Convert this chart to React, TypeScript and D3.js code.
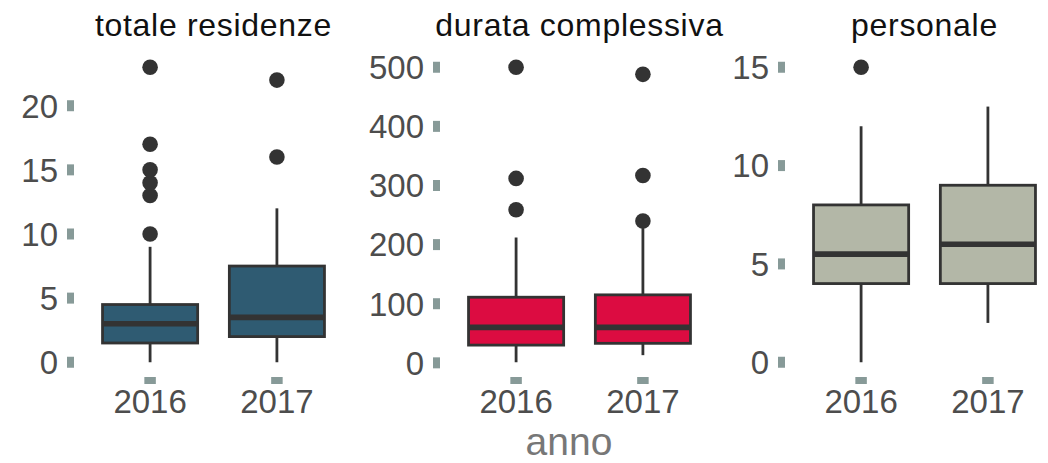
import * as d3 from "d3";

const anni = ["2016", "2017"];

// [min whisker, q1, mediana, q3, max whisker] per anno
const residenzeStats = [
  [0, 1.5, 3, 4.5, 9],
  [0, 2, 3.5, 7.5, 12],
];
const residenzeOutliers = [[10, 13, 14, 15, 17, 23], [16, 22]];
const residenzeTicks = [0, 5, 10, 15, 20];

const durataStats = [
  [1, 30, 60, 111, 212],
  [13, 33, 60, 115, 228],
];
const durataOutliers = [[259, 312, 500], [240, 317, 488]];
const durataTicks = [0, 100, 200, 300, 400, 500];

const personaleStats = [
  [0, 4, 5.5, 8, 12],
  [2, 4, 6, 9, 13],
];
const personaleOutliers = [[15], []];
const personaleTicks = [0, 5, 10, 15];

const panels = [
  { title: "totale residenze", stats: residenzeStats, outliers: residenzeOutliers, ticks: residenzeTicks, fill: "#2f5b72", left: 74 },
  { title: "durata complessiva", stats: durataStats, outliers: durataOutliers, ticks: durataTicks, fill: "#dc0c41", left: 440 },
  { title: "personale", stats: personaleStats, outliers: personaleOutliers, ticks: personaleTicks, fill: "#b3b7a7", left: 785 },
];

const W = 1048;
const H = 463;
const PANEL_W = 279;
const TOP = 52.5;
const BOTTOM = 377;
const INK = "#333333";
const TICK_COL = "#879a98";
const FONT = "'Liberation Sans', Arial, sans-serif";

const Panel = ({ p }) => {
  const all = p.stats.flat().concat(p.outliers.flat());
  const lo = d3.min(all);
  const hi = d3.max(all);
  const pad = (hi - lo) * 0.05;
  const y = d3.scaleLinear().domain([lo - pad, hi + pad]).range([BOTTOM, TOP]);
  const x = d3.scalePoint().domain(anni).range([p.left, p.left + PANEL_W]).padding(0.6);
  const bw = x.step() * 0.75;

  return (
    <g>
      <text x={p.left + PANEL_W / 2} y={36} textAnchor="middle" fontSize={32} letterSpacing={0.7} fill="#111">
        {p.title}
      </text>
      {p.ticks.map((t) => (
        <g key={t}>
          <line x1={p.left - 7} x2={p.left} y1={y(t)} y2={y(t)} stroke={TICK_COL} strokeWidth={11} />
          <text x={p.left - 16} y={y(t)} dy="0.36em" textAnchor="end" fontSize={33} fill="#4d4d4d">
            {t}
          </text>
        </g>
      ))}
      {anni.map((a, i) => {
        const [w0, q1, med, q3, w1] = p.stats[i];
        const cx = x(a);
        return (
          <g key={a}>
            <line x1={cx} x2={cx} y1={BOTTOM} y2={BOTTOM + 7} stroke={TICK_COL} strokeWidth={11.5} />
            <text x={cx} y={413} textAnchor="middle" fontSize={33} fill="#4d4d4d">
              {a}
            </text>
            <line x1={cx} x2={cx} y1={y(w0)} y2={y(q1)} stroke={INK} strokeWidth={2.8} />
            <line x1={cx} x2={cx} y1={y(q3)} y2={y(w1)} stroke={INK} strokeWidth={2.8} />
            <rect x={cx - bw / 2} y={y(q3)} width={bw} height={y(q1) - y(q3)} fill={p.fill} stroke={INK} strokeWidth={2.8} />
            <line x1={cx - bw / 2} x2={cx + bw / 2} y1={y(med)} y2={y(med)} stroke={INK} strokeWidth={5.6} />
            {p.outliers[i].map((o, j) => (
              <circle key={j} cx={cx} cy={y(o)} r={7.8} fill={INK} />
            ))}
          </g>
        );
      })}
    </g>
  );
};

export default function App() {
  return (
    <svg width={W} height={H} style={{ position: "absolute", left: 0, top: 0, background: "#fff" }} fontFamily={FONT}>
      <rect width={W} height={H} fill="#fff" />
      {panels.map((p) => (
        <Panel key={p.title} p={p} />
      ))}
      <text x={569} y={455} textAnchor="middle" fontSize={39} fill="#777777">
        anno
      </text>
    </svg>
  );
}
